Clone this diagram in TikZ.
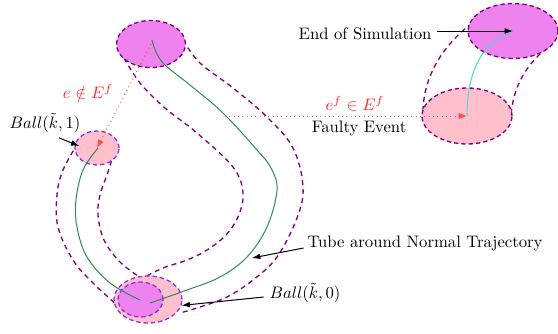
\documentclass[tikz,border=0pt]{standalone}
\usetikzlibrary{shapes.geometric,arrows.meta,calc}
\definecolor{vfill}{RGB}{238,130,238}
\definecolor{pfill}{RGB}{255,192,203}
\definecolor{tubec}{RGB}{128,0,128}
\definecolor{ballc}{RGB}{140,50,230}
\definecolor{trajc}{RGB}{46,139,87}
\definecolor{cyanc}{RGB}{64,224,208}
\definecolor{redc}{RGB}{255,40,40}
\definecolor{dotc}{RGB}{255,80,80}
\begin{document}
\begin{tikzpicture}[x=0.6pt,y=-0.6pt,
  region/.style={ellipse, inner sep=0pt, line width=0.8pt, dash pattern=on 2.6pt off 1.8pt},
  tube/.style={tubec, line width=0.8pt, dash pattern=on 3pt off 2.4pt},
  traj/.style={trajc, semithick},
  pointer/.style={-{Latex[length=5pt,width=3.5pt]}, black, semithick},
  faultarrow/.style={dotc, dotted, semithick, -{Latex[length=5pt,width=4pt]}},
  lbl/.style={inner sep=1pt}]
\useasboundingbox (0,0) rectangle (558,333);
% tube boundaries
\draw[tube] plot[smooth, tension=0.6] coordinates {(183,40) (200,63) (233,88) (267,117) (293,148) (303,187) (297,218) (277,257) (253,280) (227,297) (200,307) (180,313)};
\draw[tube] plot[smooth, tension=0.6] coordinates {(124,58) (140,83) (165,108) (197,133) (233,167) (243,193) (238,217) (225,236) (207,250) (187,260) (163,268) (141,279)};
\draw[tube] plot[smooth, tension=0.6] coordinates {(78,143) (63,170) (57,195) (58,227) (73,260) (93,283) (117,305)};
\draw[tube] plot[smooth, tension=0.6] coordinates {(114,152) (108,172) (100,195) (98,215) (104,240) (120,262) (141,278)};
\draw[tube] (472,23) .. controls (440,48) and (422,80) .. (423,116);
\draw[tube] (547,48) .. controls (528,63) and (513,85) .. (511,116);
% regions
\node[region, draw=tubec, fill=vfill, minimum width=41.4pt, minimum height=28.2pt] (top) at (151,44) {};
\node[region, draw=ballc, fill=pfill, minimum width=26.4pt, minimum height=20.4pt] (ball1) at (97,148) {};
\node[region, draw=ballc, fill=pfill, minimum width=40.8pt, minimum height=28.2pt] (bot) at (148,299.5) {};
\node[region, draw=ballc, fill=vfill, minimum width=27pt, minimum height=21pt] (botin) at (140.5,299.5) {};
\node[region, draw=tubec, fill=vfill, minimum width=54pt, minimum height=33pt] (endsim) at (513,31) {};
\node[region, draw=tubec, fill=pfill, minimum width=54pt, minimum height=33.6pt] (fault) at (467,116) {};
% trajectories
\draw[traj] plot[smooth, tension=0.6] coordinates {(150,303) (187,290) (220,277) (247,257) (267,227) (277,190) (271,168) (257,150) (223,113) (190,85) (165,65) (156,52) (152,40)};
\draw[traj] plot[smooth, tension=0.6] coordinates {(140,300) (110,283) (87,257) (77,227) (76,200) (83,170) (98,148)};
\draw[cyanc, semithick] (fault.center) to[out=90, in=200] (endsim.center);
% faulty events
\coordinate (fstart) at (225,116);
\draw[faultarrow] (top.center) -- (ball1.center);
\draw[faultarrow] (fstart) -- (fault.center);
% labels
\node[lbl, text=redc] (elbl) at (88,92) {$e \notin E^f$};
\node[lbl, text=redc] (eflbl) at (355,104) {$e^f \in E^f$};
\node[lbl] (fevlbl) at (359,128) {Faulty Event};
\node[lbl] (endtxt) at (365,34) {End of Simulation};
\node[lbl] (b1lbl) at (45,123) {$Ball(\tilde{k},1)$};
\node[lbl] (tubelbl) at (425,243) {Tube around Normal Trajectory};
\node[lbl] (b0lbl) at (305,293) {$Ball(\tilde{k},0)$};
\coordinate (tubept) at (252,258);
% pointers
\draw[pointer] ($(endtxt.east)+(4,-3)$) -- (endsim.center);
\draw[pointer] ($(b1lbl.south)+(14,3)$) -- ($(ball1.west)+(5,-2)$);
\draw[pointer] ($(tubelbl.west)+(-2,5)$) -- (tubept);
\draw[pointer] ($(b0lbl.west)+(-4,4)$) -- (bot.-10);
\end{tikzpicture}
\end{document}
